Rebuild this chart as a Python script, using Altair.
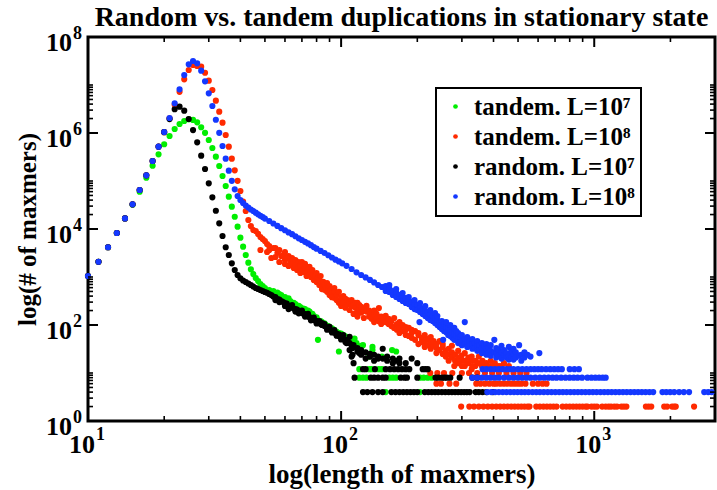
import altair as alt
import pandas as pd

FONT = "Liberation Serif, Times New Roman, DejaVu Serif, serif"
SERIES = ["tandem. L=10⁷", "tandem. L=10⁸", "random. L=10⁷", "random. L=10⁸"]
COLORS = ["#00ee00", "#ff2a00", "#000000", "#1438ff"]
TITLE = "Random vs. tandem duplications in stationary state"

# ---------------- tandem duplications, L = 10^7 ----------------
tnd7_peak_len = list(range(10, 49))
tnd7_peak_cnt = [1050, 2080, 4160, 8260, 16600, 32000, 59800, 117000, 208000, 360000,
                 582000, 866000, 1210000, 1540000, 1780000, 1930000, 1870000, 1670000,
                 1320000, 1010000, 714000, 487000, 321000, 205000, 127000, 78700, 47100,
                 29200, 18000, 11200, 6590, 4280, 2870, 1990, 1450, 1150, 955, 826, 715]
tnd7_body = [(49, 650), (50, 589), (52, 536), (54, 511), (56, 475), (57, 440), (58, 422),
             (60, 383), (62, 360), (63, 316), (65, 290), (66, 274), (68, 250), (69, 237),
             (71, 220), (72, 215), (74, 200), (75, 191), (77, 170), (78, 154), (80, 145),
             (81, 127), (81, 49), (83, 120), (84, 115), (86, 108), (87, 100), (89, 95),
             (90, 91), (92, 85), (94, 79), (96, 72), (98, 68), (98, 28), (100, 66),
             (102, 62), (104, 58), (106, 52), (108, 50), (110, 49), (113, 52), (115, 42),
             (120, 37), (122, 38), (129, 22), (133, 35), (133, 30), (145, 22), (159, 30),
             (165, 28)]
tnd7_n12 = [118, 129, 132, 141, 145]
tnd7_n8 = [118, 122, 126, 155, 160, 165, 205, 212, 220, 228]
tnd7_n4 = [150, 205]

# ---------------- tandem duplications, L = 10^8 ----------------
tnd8_peak_len = list(range(10, 46))
tnd8_peak_cnt = [1050, 2080, 4160, 8260, 16600, 32700, 64900, 131000, 261000, 519000,
                 1040000, 2030000, 3900000, 7200000, 13100000, 20500000, 26100000,
                 24900000, 24100000, 18000000, 12300000, 7870000, 4710000, 2780000,
                 1640000, 908000, 519000, 292000, 167000, 101000, 61900, 37100, 23700,
                 15400, 11500, 9530]
tnd8_body = [(46, 9100), (47, 7900), (48, 6800), (48, 3650), (49, 6200), (50, 5600),
             (51, 4870), (51, 3320), (52, 4420), (52, 3650), (53, 2490), (54, 4020),
             (55, 4020), (55, 2610), (56, 3160), (57, 3650), (57, 2050), (58, 2740),
             (59, 2870), (60, 2260), (60, 3320), (60, 1870), (61, 2490), (62, 2740),
             (62, 1700), (63, 2150), (64, 1870), (64, 2490), (65, 1540), (66, 2260),
             (66, 1780), (67, 1400), (68, 2050), (68, 1620), (69, 1700), (69, 1210),
             (70, 2050), (70, 1400), (71, 1270), (72, 1540), (72, 1870), (73, 1330),
             (73, 1050), (74, 1400), (75, 1100), (75, 1620), (76, 1000), (76, 1270),
             (77, 1400), (78, 870), (78, 1100), (79, 1050), (80, 790), (80, 1210),
             (81, 950), (82, 680), (82, 870), (83, 1050), (84, 750), (84, 560), (85, 790),
             (86, 540), (86, 680), (87, 620), (88, 750), (88, 490), (89, 590), (90, 420),
             (90, 650), (91, 540), (92, 460), (92, 380), (94, 510), (94, 370), (94, 590),
             (96, 420), (96, 330), (98, 490), (98, 290), (100, 330), (100, 380),
             (100, 250), (102, 290), (102, 400), (104, 350), (104, 230), (106, 270),
             (106, 330), (108, 205), (108, 300), (110, 250), (110, 330), (112, 260),
             (112, 170), (114, 230), (114, 290), (116, 290), (116, 190), (116, 150),
             (118, 215), (118, 260), (120, 180), (120, 240), (123, 200), (123, 140),
             (126, 190), (126, 250), (129, 150), (129, 200), (132, 135), (132, 180),
             (135, 200), (135, 160), (135, 115), (138, 140), (138, 170), (141, 225),
             (141, 120), (144, 150), (144, 105), (147, 125), (147, 140), (150, 115),
             (150, 155), (154, 135), (154, 105), (158, 95), (158, 120), (162, 140),
             (162, 87), (166, 105), (166, 80), (170, 90), (170, 115), (170, 68),
             (175, 100), (175, 75), (180, 79), (180, 62), (180, 91), (185, 87), (185, 59),
             (190, 68), (190, 79), (190, 54), (196, 75), (196, 49), (202, 62), (202, 68),
             (202, 40), (208, 54), (208, 44), (214, 62), (214, 46), (214, 35), (220, 51),
             (220, 38), (226, 42), (226, 32), (226, 56), (232, 37), (232, 46), (238, 33),
             (238, 40), (238, 26), (245, 46), (245, 30), (252, 35), (252, 25), (252, 40),
             (259, 29), (259, 22), (266, 32), (266, 24), (266, 18), (274, 27), (274, 37),
             (274, 21), (282, 24), (282, 18), (290, 29), (290, 21), (290, 16), (299, 23),
             (299, 18), (308, 26), (308, 18), (308, 14), (318, 21), (318, 16), (328, 18),
             (328, 22), (328, 12), (339, 18), (339, 14), (350, 16), (350, 22), (362, 14),
             (362, 18), (375, 16), (375, 14), (390, 14), (390, 18), (405, 16), (420, 14),
             (440, 16), (460, 14)]
tnd8_n14 = [280, 300, 330, 360, 400, 430]
tnd8_n10 = [225, 240, 255, 275, 300, 320, 345, 370, 395, 420, 450, 480, 510, 540]
tnd8_n6 = [238, 248, 268, 285, 342, 355, 370, 385, 400, 410, 425, 440, 455, 470, 485,
           500, 515, 535, 572, 600, 625, 648]
tnd8_n2 = [298, 321, 335, 350, 365, 380, 395, 410, 425, 440, 455, 470, 485, 500, 515,
           530, 545, 555, 590, 610, 630, 650, 670, 690, 710, 750, 775, 800, 825, 850,
           875, 900, 925, 940, 975, 1000, 1025, 1075, 1110, 1140, 1165, 1200, 1230,
           1280, 1310, 1340, 1600, 1640, 1680, 1890, 1940, 2030, 2070, 2100, 2480]

# ---------------- random duplications, L = 10^7 ----------------
rnd7_peak_len = list(range(10, 40))
rnd7_peak_cnt = [1050, 2080, 4160, 8260, 16600, 32700, 64900, 131000, 261000, 519000,
                 1040000, 1950000, 3120000, 3530000, 2920000, 1960000, 1150000, 640000,
                 337000, 178000, 89500, 45700, 24000, 13100, 7140, 4160, 2870, 1930,
                 1400, 1100]
rnd7_body = [(40, 940), (41, 845), (42, 787), (43, 732), (44, 681), (45, 634), (46, 590),
             (47, 562), (48, 536), (49, 510), (50, 487), (51, 470), (52, 443), (53, 420),
             (54, 393), (55, 380), (55, 330), (56, 348), (57, 340), (57, 300), (58, 316),
             (59, 300), (60, 287), (60, 250), (61, 280), (62, 249), (62, 215), (63, 245),
             (64, 232), (64, 260), (65, 220), (66, 215), (66, 190), (67, 210), (68, 196),
             (68, 175), (69, 190), (70, 178), (70, 200), (71, 172), (72, 166), (72, 150),
             (73, 160), (74, 150), (74, 170), (75, 146), (76, 140), (76, 125), (77, 136),
             (78, 127), (78, 142), (79, 124), (80, 121), (80, 108), (82, 112), (82, 120),
             (83, 105), (84, 100), (84, 110), (86, 95), (86, 104), (88, 88), (88, 80),
             (89, 85), (90, 82), (90, 92), (92, 75), (92, 70), (94, 70), (94, 78),
             (95, 68), (96, 66), (96, 60), (98, 59), (98, 64), (100, 56), (100, 50),
             (101, 54), (102, 62), (104, 49), (104, 44), (105, 42), (106, 46), (108, 42),
             (108, 57), (108, 30), (110, 38), (110, 22), (111, 33), (111, 24), (112, 38),
             (112, 16), (116, 33), (116, 28), (118, 26), (120, 30), (120, 24), (125, 27),
             (125, 20), (130, 25), (130, 22), (135, 24), (135, 18), (140, 22), (140, 20),
             (146, 32), (146, 20), (152, 18), (152, 22), (160, 20), (160, 16), (165, 18),
             (170, 16), (170, 20), (180, 16), (190, 20), (200, 16)]
rnd7_n12 = [122, 125, 136, 150, 156, 162, 168, 174, 180, 186, 210, 215, 220]
rnd7_n8 = [113, 131, 135, 140, 146, 150, 172, 178, 182, 200, 236, 242, 250, 256, 262,
           270, 294, 330, 345]
rnd7_n4 = [122, 127, 133, 140, 146, 158, 164, 170, 176, 182, 188, 194, 200, 214, 221,
           228, 235, 242, 250, 258, 266, 274, 282, 290, 298, 306, 314, 322, 340, 350,
           362, 375, 398]

# ---------------- random duplications, L = 10^8 ----------------
rnd8_peak_len = list(range(10, 40))
rnd8_peak_cnt = [1050, 2080, 4160, 8260, 16600, 32700, 64900, 131000, 261000, 519000,
                 1050000, 2050000, 4160000, 8130000, 16100000, 27000000, 31600000,
                 28300000, 19900000, 11900000, 6710000, 3650000, 1890000, 1010000,
                 536000, 292000, 164000, 101000, 67100, 48700]
rnd8_body_len = [40, 41, 42, 43, 44, 45, 46, 47, 48, 49, 50, 52, 54, 56, 58, 60, 62, 64,
                 66, 68, 70, 72, 74, 76, 78, 80, 83, 86, 89, 92, 95, 98, 101, 105, 110,
                 115, 120, 125, 130, 135, 140, 145]
rnd8_body_cnt = [40200, 34800, 30900, 28000, 25500, 23700, 21900, 20200, 18900, 17700,
                 16500, 14700, 13000, 11600, 10400, 9400, 8500, 7800, 7050, 6400, 5900,
                 5400, 5000, 4600, 4200, 3900, 3500, 3160, 2840, 2550, 2300, 2110, 1930,
                 1710, 1470, 1250, 1100, 980, 870, 770, 680, 620]
rnd8_tail = [(150, 649), (150, 511), (155, 590), (155, 487), (155, 681), (160, 511),
             (160, 422), (165, 487), (165, 383), (165, 562), (170, 422), (170, 348),
             (175, 383), (175, 316), (175, 464), (180, 365), (180, 287), (185, 332),
             (185, 274), (185, 383), (190, 301), (190, 237), (195, 274), (195, 215),
             (195, 332), (200, 261), (200, 205), (204, 115), (205, 237), (205, 187),
             (205, 287), (210, 215), (210, 170), (215, 196), (215, 154), (215, 249),
             (220, 187), (220, 140), (225, 170), (225, 127), (225, 205), (230, 154),
             (230, 121), (235, 140), (235, 110), (235, 178), (240, 127), (240, 100),
             (240, 154), (245, 115), (245, 91), (250, 121), (250, 83), (250, 100),
             (253, 49), (255, 105), (255, 75), (260, 91), (260, 71), (260, 115),
             (265, 87), (265, 62), (270, 79), (270, 100), (270, 59), (275, 71), (275, 54),
             (280, 65), (280, 87), (280, 49), (285, 59), (285, 75), (290, 68), (290, 51),
             (290, 42), (295, 56), (295, 44), (300, 62), (300, 46), (300, 38), (308, 115),
             (308, 51), (308, 40), (315, 56), (315, 44), (315, 35), (322, 46), (322, 37),
             (330, 51), (330, 40), (330, 32), (338, 42), (338, 33), (345, 46), (345, 37),
             (345, 29), (352, 38), (352, 30), (360, 42), (360, 33), (360, 26), (368, 37),
             (368, 27), (375, 40), (375, 32), (375, 24), (382, 33), (382, 26), (390, 38),
             (390, 29), (390, 23), (403, 49), (403, 27), (410, 33), (410, 25), (410, 21),
             (420, 30), (420, 23), (430, 27), (430, 37), (430, 20), (440, 24), (440, 30),
             (450, 26), (450, 21), (460, 35), (460, 23), (460, 19), (470, 29), (470, 21),
             (480, 24), (480, 19), (480, 32), (490, 27), (490, 21), (505, 38), (505, 23),
             (515, 24), (515, 18), (530, 21), (530, 27), (545, 24), (560, 22), (607, 26)]
rnd8_n12 = [362, 375, 390, 405, 420, 435, 450, 465, 480, 500, 520, 540, 560, 580, 600,
            620, 645, 670, 695, 720, 745, 800, 835, 870]
rnd8_n8 = [330, 345, 360, 375, 390, 405, 420, 440, 460, 480, 500, 520, 540, 560, 585,
           610, 635, 660, 685, 710, 740, 770, 800, 830, 860, 895, 940, 975, 1010, 1045,
           1080, 1110]
rnd8_n4 = [378, 392, 406, 420, 435, 450, 466, 482, 498, 515, 532, 550, 570, 590, 610,
           632, 655, 678, 702, 727, 752, 778, 805, 833, 862, 892, 923, 955, 988, 1022,
           1058, 1095, 1133, 1172, 1213, 1255, 1299, 1344, 1391, 1440, 1490, 1542, 1596,
           1652, 1710, 1860, 1925, 1995, 2070, 2165, 2260, 2370, 2720, 2820, 2910]

# axis ticks and labels
x_major = [10, 100, 1000]
x_minor = [20, 30, 40, 50, 60, 70, 80, 90, 200, 300, 400, 500, 600, 700, 800, 900, 2000]
x_exp = ["1", "2", "3"]
y_major = [1, 100, 1e4, 1e6, 1e8]
y_minor = [2, 3, 4, 5, 6, 7, 8, 9, 10,
           200, 300, 400, 500, 600, 700, 800, 900, 1000,
           2e4, 3e4, 4e4, 5e4, 6e4, 7e4, 8e4, 9e4, 1e5,
           2e6, 3e6, 4e6, 5e6, 6e6, 7e6, 8e6, 9e6, 1e7]
y_exp = ["0", "2", "4", "6", "8"]


def band(lengths, count):
    return [(l, count) for l in lengths]


records = []


def add(series, pairs):
    records.extend({"length": l, "count": c, "series": series} for l, c in pairs)


# drawing order: later sets on top
add(SERIES[0], zip(tnd7_peak_len, tnd7_peak_cnt))
add(SERIES[0], tnd7_body)
add(SERIES[0], band(tnd7_n12, 12) + band(tnd7_n8, 8) + band(tnd7_n4, 4))
add(SERIES[1], zip(tnd8_peak_len, tnd8_peak_cnt))
add(SERIES[1], tnd8_body)
add(SERIES[1], band(tnd8_n14, 14) + band(tnd8_n10, 10) + band(tnd8_n6, 6) + band(tnd8_n2, 2))
add(SERIES[2], zip(rnd7_peak_len, rnd7_peak_cnt))
add(SERIES[2], rnd7_body)
add(SERIES[2], band(rnd7_n12, 12) + band(rnd7_n8, 8) + band(rnd7_n4, 4))
add(SERIES[3], zip(rnd8_peak_len, rnd8_peak_cnt))
add(SERIES[3], zip(rnd8_body_len, rnd8_body_cnt))
add(SERIES[3], rnd8_tail)
add(SERIES[3], band(rnd8_n12, 12) + band(rnd8_n8, 8) + band(rnd8_n4, 4))

df = pd.DataFrame(records)
df["order"] = df["series"].map({s: i for i, s in enumerate(SERIES)})

W, H = 627, 384

x_scale = alt.Scale(type="log", domain=[10, 3000], nice=False)
y_scale = alt.Scale(type="log", domain=[1, 1e8], nice=False)
x_axis = alt.Axis(title="log(length of maxmers)", labels=False, ticks=False, domain=False,
                  grid=False, titleFont=FONT, titleFontSize=27, titleFontWeight="bold",
                  titleColor="black", titleY=61, titleBaseline="alphabetic")
y_axis = alt.Axis(title="log(# of maxmers)", labels=False, ticks=False, domain=False,
                  grid=False, titleFont=FONT, titleFontSize=25, titleFontWeight="bold",
                  titleColor="black", titleX=-53, titleBaseline="alphabetic")


def X():
    return alt.X("length:Q", scale=x_scale, axis=x_axis)


def Y():
    return alt.Y("count:Q", scale=y_scale, axis=y_axis)


points = alt.Chart(df).mark_circle(size=38, opacity=1).encode(
    x=X(),
    y=Y(),
    color=alt.Color("series:N", scale=alt.Scale(domain=SERIES, range=COLORS),
                    legend=alt.Legend(title=None)),
    order="order:Q",
)


def x_ticks(vals, y0, y1, w):
    return alt.Chart(pd.DataFrame({"length": vals})).mark_rule(
        color="black", strokeWidth=w).encode(x=X(), y=alt.value(y0), y2=alt.value(y1))


def y_ticks(vals, x0, x1, w):
    return alt.Chart(pd.DataFrame({"count": vals})).mark_rule(
        color="black", strokeWidth=w).encode(y=Y(), x=alt.value(x0), x2=alt.value(x1))


ticks = [
    x_ticks(x_major, H, H - 10, 2), x_ticks(x_major, 0, 10, 2),
    x_ticks(x_minor, H, H - 5, 1.6), x_ticks(x_minor, 0, 5, 1.6),
    y_ticks(y_major, 0, 10, 2), y_ticks(y_major, W, W - 10, 2),
    y_ticks(y_minor, 0, 5, 1.6), y_ticks(y_minor, W, W - 5, 1.6),
]

ylab = pd.DataFrame({"count": y_major, "base": ["10"] * len(y_major), "exp": y_exp})
xlab = pd.DataFrame({"length": x_major, "base": ["10"] * len(x_major), "exp": x_exp})

txt = dict(font=FONT, fontWeight="bold", color="black", baseline="alphabetic")
y_base = alt.Chart(ylab).mark_text(fontSize=26, align="right", dy=13.5, **txt).encode(
    y=Y(), x=alt.value(-16), text="base:N")
y_sup = alt.Chart(ylab).mark_text(fontSize=18, align="left", dy=2, **txt).encode(
    y=Y(), x=alt.value(-15), text="exp:N")
x_base = alt.Chart(xlab).mark_text(fontSize=26, align="right", dx=7, dy=32, **txt).encode(
    x=X(), y=alt.value(H), text="base:N")
x_sup = alt.Chart(xlab).mark_text(fontSize=18, align="left", dx=8, dy=19, **txt).encode(
    x=X(), y=alt.value(H), text="exp:N")

title = alt.Chart(pd.DataFrame({"t": [TITLE]})).mark_text(
    fontSize=28, align="center", **txt).encode(
    text="t:N", x=alt.value(W / 2), y=alt.value(-11))

chart = alt.layer(points, *ticks, y_base, y_sup, x_base, x_sup, title).properties(
    width=W,
    height=H,
    padding={"left": 88, "top": 37, "right": 2, "bottom": 69},
    autosize=alt.AutoSizeParams(type="none"),
    background="white",
).configure_view(
    stroke="black", strokeWidth=3,
).configure_legend(
    orient="none", legendX=348, legendY=51,
    strokeColor="black", strokeWidth=2, fillColor="white",
    padding=6, symbolOffset=1, symbolSize=22, symbolType="circle",
    labelFont=FONT, labelFontSize=25, labelFontWeight="bold", labelColor="black",
    labelOffset=6, labelLimit=400, rowPadding=4,
)

chart.save("out.html", embed_options={"renderer": "svg", "actions": False})
